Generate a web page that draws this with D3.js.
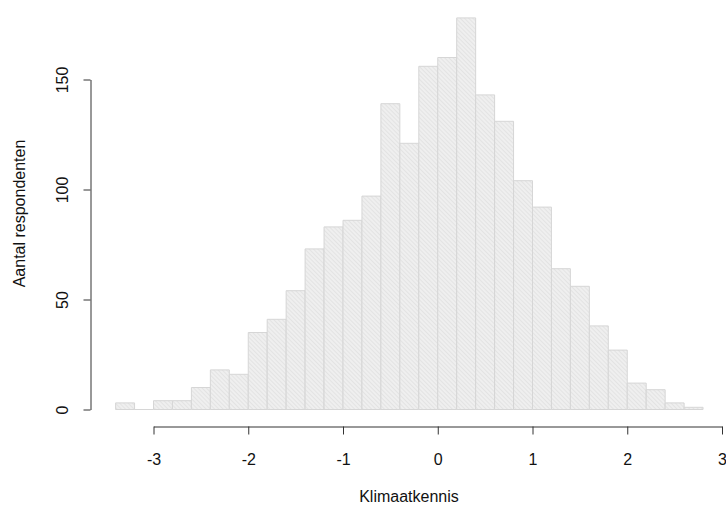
<!DOCTYPE html>
<html>
<head>
<meta charset="utf-8">
<script src="https://cdn.jsdelivr.net/npm/d3@7/dist/d3.min.js"></script>
<style>
  html, body { margin: 0; padding: 0; background: #ffffff; }
  svg { display: block; font-family: "Liberation Sans", Arial, sans-serif; }
</style>
</head>
<body>
<svg id="chart" width="726" height="506"></svg>
<script>
// ---- data ----
const binEdges = [-3.4, -3.2, -3.0, -2.8, -2.6, -2.4, -2.2, -2.0, -1.8, -1.6, -1.4, -1.2, -1.0, -0.8, -0.6, -0.4, -0.2,
                  0.0, 0.2, 0.4, 0.6, 0.8, 1.0, 1.2, 1.4, 1.6, 1.8, 2.0, 2.2, 2.4, 2.6, 2.8];
const counts = [3, 0, 4, 4, 10, 18, 16, 35, 41, 54, 73, 83, 86, 97, 139, 121, 156,
                160, 178, 143, 131, 104, 92, 64, 56, 38, 27, 12, 9, 3, 1];
const xTicks = [-3, -2, -1, 0, 1, 2, 3];
const yTicks = [0, 50, 100, 150];
const xLabel = "Klimaatkennis";
const yLabel = "Aantal respondenten";

const bins = counts.map((c, i) => ({ x0: binEdges[i], x1: binEdges[i + 1], count: c }));

// ---- layout ----
const svg = d3.select("#chart");
const x = d3.scaleLinear().domain([-3, 3]).range([153.5, 722]);
const y = d3.scaleLinear().domain([0, 150]).range([409.5, 79.5]);

// hatch pattern
const defs = svg.append("defs");
const pat = defs.append("pattern")
  .attr("id", "hatch")
  .attr("patternUnits", "userSpaceOnUse")
  .attr("width", 3).attr("height", 3)
  .attr("patternTransform", "rotate(-45)");
pat.append("rect").attr("width", 3).attr("height", 3).attr("fill", "#efefef");
pat.append("line").attr("x1", 0).attr("y1", 0).attr("x2", 0).attr("y2", 3)
  .attr("stroke", "#dcdcdc").attr("stroke-width", 1.2);

// bars (as closed paths so that empty bins still show their outline on the baseline)
svg.append("g").selectAll("path")
  .data(bins)
  .join("path")
  .attr("d", d => {
    const p = d3.path();
    p.moveTo(x(d.x0), y(0));
    p.lineTo(x(d.x0), y(d.count));
    p.lineTo(x(d.x1), y(d.count));
    p.lineTo(x(d.x1), y(0));
    p.closePath();
    return p.toString();
  })
  .attr("fill", "url(#hatch)")
  .attr("stroke", "#d6d6d6")
  .attr("stroke-width", 1);

// x axis
const gx = svg.append("g")
  .attr("transform", "translate(0,426.5)")
  .call(d3.axisBottom(x).tickValues(xTicks).tickFormat(d3.format("d")).tickSize(8).tickSizeOuter(0));
gx.select(".domain").attr("stroke", "#333");
gx.selectAll(".tick line").attr("stroke", "#333");
gx.selectAll(".tick text")
  .attr("y", 38).attr("dy", 0)
  .attr("font-size", 16).attr("fill", "#111")
  .attr("font-family", "Liberation Sans, Arial, sans-serif")
  .text(d => d < 0 ? "-" + Math.abs(d) : String(d));

// y axis
const gy = svg.append("g")
  .attr("transform", "translate(90.5,0)")
  .call(d3.axisLeft(y).tickValues(yTicks).tickSize(7).tickSizeOuter(0));
gy.select(".domain").attr("stroke", "#333");
gy.selectAll(".tick line").attr("stroke", "#333");
gy.selectAll(".tick text")
  .attr("x", 0).attr("y", 0).attr("dy", 0)
  .attr("text-anchor", "middle")
  .attr("transform", "translate(-23,0) rotate(-90)")
  .attr("font-size", 16).attr("fill", "#111")
  .attr("font-family", "Liberation Sans, Arial, sans-serif");

// titles
svg.append("text")
  .attr("x", 409).attr("y", 502)
  .attr("text-anchor", "middle")
  .attr("font-size", 16).attr("fill", "#111")
  .text(xLabel);

svg.append("text")
  .attr("transform", "translate(25,213.5) rotate(-90)")
  .attr("text-anchor", "middle")
  .attr("font-size", 16).attr("fill", "#111")
  .text(yLabel);
</script>
</body>
</html>
